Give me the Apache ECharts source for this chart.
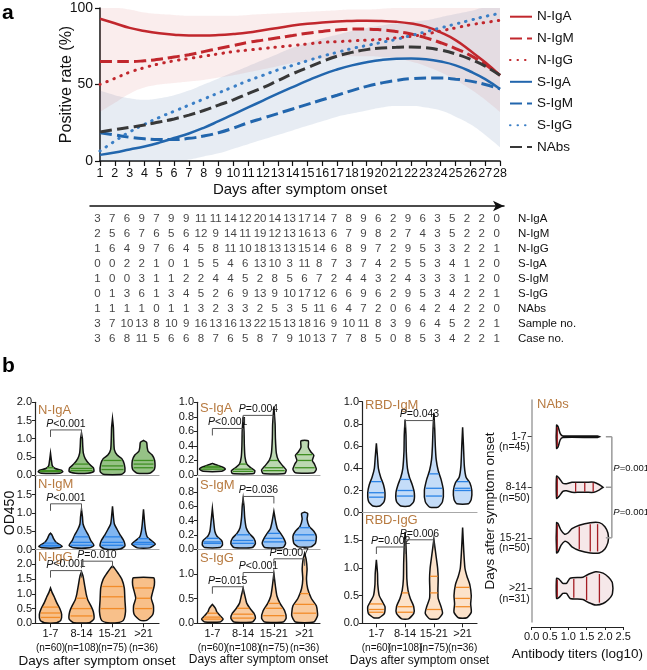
<!DOCTYPE html>
<html><head><meta charset="utf-8">
<script src="https://cdn.jsdelivr.net/npm/echarts@6/dist/echarts.min.js"></script>
<style>html,body{margin:0;padding:0;background:#fff}#c{width:647px;height:670px}</style>
</head><body><div id="c"></div>
<script>
// ---------------- DATA : panel a ----------------
const days = ['1','2','3','4','5','6','7','8','9','10','11','12','13','14','15','16','17','18','19','20','21','22','23','24','25','26','27','28'];
const nIgA = [93,90,87,85,83.5,82.5,82,82,82.3,83,84,85.5,87,88.5,89.7,90.6,91.2,91.5,91.7,91.5,91,89.8,87.8,84,79,72,64.5,56];
const nIgM = [65,65,65,65.5,66.5,68,69.5,71.5,73.5,75.5,77.5,79,80.5,82,83.5,84.7,85.6,86.2,86.2,85.7,84.6,83,80.5,77.3,73.5,69,63,56];
const nIgG = [50,54,58,61,63.5,65.5,67,68.5,70,71.5,72.5,73.5,74.5,75.5,76.5,77.5,78,78.5,79,79.5,80.5,81.5,83,85,87,89,90.5,92];
const sIgA = [4,5.5,7.5,9.5,12,15,18,21.7,26,30.5,35,39.5,44,48.3,52.5,56.5,59.8,62.5,64.5,66,66.8,67,66.5,65,62.5,58.5,53.5,47];
const sIgM = [18.5,17,15.5,14.5,14,14,14.8,16.3,18.5,21.5,25,28,31,34,37,40,43,46,48.8,51,52.7,53.8,54.2,54.2,53.5,52.2,50,47];
const sIgG = [6.5,13,19,24,28.5,32.5,36.5,40.5,44.5,48.5,52.5,56,59.5,62.5,65.5,68.5,71,73.5,75.5,77.5,79.5,82,84.5,87,89.5,92,94.5,96.5];
const nAbs = [19,20.5,22,23.5,25.5,27.5,30,33,36.5,40,44,48,52.5,57,61,65,68.5,71,72.8,73.8,74.3,74.5,74,72.5,70,66.5,62,56];
// confidence regions (group envelopes)
const redLo  = [32,38,44,48,50,51,52,53,54.5,56,58,60,62,64,65.5,67,68,68.5,68.5,68,67,65,62,58,53,47,40,32];
const redHi  = [100,100,99,97,96,95.5,95,95,95,95,95.5,96,96.5,97,97.5,98,98.5,99,99,99.5,100,100,100,100,100,100,100,100];
const blueLo = [0,0,0,0,0,0,1,3,5,8,11,14,17,20,23,26,29,31,33,35,36,36,35,33,29,24,17,9];
const blueHi = [46,43,41,40,41,43,46,50,54,58,62,66,70,74,77,80,82.5,85,87,88.5,90,91,92,94,96,98,100,100];

// ---------------- DATA : table ----------------
const rowNames = ['N-IgA','N-IgM','N-IgG','S-IgA','S-IgM','S-IgG','NAbs','Sample no.','Case no.'];
const tNIgA   = [3,7,6,9,7,9,9,11,11,14,12,20,14,13,17,14,7,8,9,6,2,9,6,3,5,2,2,0];
const tNIgM   = [2,5,6,7,6,5,6,12,9,14,11,19,12,13,16,13,6,7,9,8,2,7,4,3,5,2,2,0];
const tNIgG   = [1,6,4,9,7,6,4,5,8,11,10,18,13,13,15,14,6,8,9,7,2,9,5,3,3,2,2,1];
const tSIgA   = [0,0,2,2,1,0,1,5,5,4,6,13,10,3,11,8,7,3,7,4,2,5,5,3,4,1,2,0];
const tSIgM   = [1,0,0,3,1,1,2,2,4,4,5,2,8,5,6,7,2,4,4,3,2,4,3,3,3,1,2,0];
const tSIgG   = [0,1,3,6,1,3,4,5,2,6,9,13,9,10,17,12,6,6,9,6,2,9,5,3,4,2,2,1];
const tNAbs   = [1,1,1,1,0,1,1,3,2,3,3,2,5,3,5,11,6,4,7,2,0,6,4,2,4,2,2,0];
const tSample = [3,7,10,13,8,10,9,16,13,16,13,22,15,13,18,16,9,10,11,8,3,9,6,4,5,2,2,1];
const tCase   = [3,6,8,11,5,6,6,8,7,6,5,8,7,9,10,13,7,7,8,5,0,8,5,3,4,2,2,1];

// ---------------- DATA : panel b ----------------
const periods = ['1-7','8-14','15-21','>21'];
const nLabels = ['(n=60)','(n=108)','(n=75)','(n=36)'];
const nabsN = ['(n=45)','(n=50)','(n=50)','(n=31)'];
// violin outlines: [value, relative half-width]
const vNIgA = [
 [[0.05,0.3],[0.09,0.4],[0.13,0.35],[0.18,0.15],[0.25,0.06],[0.4,0.03],[0.6,0]],
 [[0.05,0.2],[0.1,0.4],[0.2,0.38],[0.3,0.25],[0.45,0.12],[0.6,0.06],[0.8,0.04],[1.0,0.03],[1.15,0]],
 [[0.02,0.3],[0.1,0.4],[0.3,0.38],[0.45,0.3],[0.55,0.15],[0.7,0.06],[1.0,0.04],[1.3,0.03],[1.55,0]],
 [[0.05,0.2],[0.15,0.35],[0.4,0.36],[0.55,0.28],[0.65,0.15],[0.75,0.12],[0.9,0.1],[0.95,0]]];
const vNIgM = [
 [[0.05,0.25],[0.09,0.38],[0.14,0.3],[0.2,0.18],[0.3,0.1],[0.4,0.05],[0.45,0]],
 [[0.05,0.25],[0.12,0.4],[0.25,0.3],[0.4,0.22],[0.55,0.12],[0.7,0.05],[0.9,0.03],[1.1,0]],
 [[0.02,0.25],[0.1,0.4],[0.25,0.36],[0.4,0.25],[0.55,0.15],[0.7,0.06],[0.9,0.03],[1.18,0]],
 [[0.05,0.2],[0.15,0.38],[0.25,0.25],[0.35,0.12],[0.5,0.07],[0.7,0.04],[0.9,0.02],[1.1,0]]];
const vNIgG = [
 [[0.02,0.2],[0.1,0.33],[0.3,0.36],[0.5,0.3],[0.7,0.2],[0.9,0.12],[1.05,0.05],[1.2,0]],
 [[0.02,0.25],[0.15,0.4],[0.4,0.38],[0.6,0.3],[0.8,0.2],[1.0,0.15],[1.3,0.1],[1.6,0.05],[1.75,0]],
 [[0.02,0.15],[0.1,0.35],[0.4,0.42],[0.8,0.4],[1.2,0.38],[1.5,0.3],[1.7,0.18],[1.85,0.08],[1.95,0]],
 [[0.1,0.1],[0.3,0.3],[0.6,0.32],[0.85,0.25],[1.0,0.28],[1.3,0.35],[1.5,0.35],[1.55,0.32]]];
const vSIgA = [
 [[0.05,0.3],[0.08,0.42],[0.11,0.32],[0.14,0.12],[0.16,0]],
 [[0.02,0.35],[0.06,0.38],[0.1,0.25],[0.15,0.12],[0.25,0.06],[0.4,0.04],[0.6,0.03],[0.8,0]],
 [[0.02,0.35],[0.07,0.4],[0.12,0.3],[0.2,0.15],[0.3,0.08],[0.5,0.05],[0.7,0.04],[0.94,0]],
 [[0.03,0.3],[0.08,0.38],[0.15,0.32],[0.2,0.25],[0.27,0.3],[0.32,0.2],[0.38,0.12],[0.47,0.12]]];
const vSIgM = [
 [[0.02,0.25],[0.06,0.33],[0.12,0.3],[0.18,0.15],[0.25,0.08],[0.4,0.04],[0.57,0]],
 [[0.02,0.3],[0.08,0.4],[0.15,0.35],[0.22,0.2],[0.3,0.1],[0.45,0.05],[0.6,0.03],[0.71,0]],
 [[0.02,0.3],[0.08,0.38],[0.15,0.32],[0.22,0.22],[0.28,0.12],[0.38,0.06],[0.53,0]],
 [[0.03,0.2],[0.08,0.35],[0.18,0.38],[0.25,0.3],[0.32,0.15],[0.42,0.08],[0.5,0.1],[0.52,0]]];
const vSIgG = [
 [[0.02,0.25],[0.08,0.35],[0.15,0.25],[0.22,0.15],[0.3,0.1],[0.38,0]],
 [[0.02,0.3],[0.1,0.4],[0.2,0.35],[0.3,0.22],[0.4,0.12],[0.55,0.06],[0.71,0]],
 [[0.02,0.3],[0.1,0.4],[0.25,0.35],[0.4,0.2],[0.55,0.1],[0.75,0.05],[1.01,0]],
 [[0.02,0.3],[0.15,0.42],[0.35,0.38],[0.5,0.22],[0.7,0.1],[0.9,0.06],[1.1,0.08],[1.3,0.05],[1.42,0]]];
const vRbdM = [
 [[0.06,0.12],[0.1,0.27],[0.18,0.3],[0.25,0.25],[0.32,0.15],[0.4,0.07],[0.5,0.04],[0.625,0]],
 [[0.06,0.15],[0.1,0.3],[0.18,0.32],[0.25,0.25],[0.32,0.15],[0.4,0.08],[0.55,0.04],[0.7,0.03],[0.84,0]],
 [[0.05,0.15],[0.1,0.3],[0.2,0.33],[0.3,0.25],[0.38,0.15],[0.48,0.08],[0.6,0.05],[0.75,0.03],[0.9,0]],
 [[0.08,0.2],[0.12,0.3],[0.2,0.32],[0.27,0.25],[0.32,0.12],[0.42,0.06],[0.6,0.03],[0.77,0]]];
const vRbdG = [
 [[0.1,0.1],[0.18,0.28],[0.3,0.3],[0.4,0.2],[0.5,0.1],[0.7,0.05],[0.9,0.04],[1.15,0]],
 [[0.08,0.12],[0.18,0.3],[0.3,0.3],[0.45,0.18],[0.6,0.1],[0.8,0.06],[1.1,0.05],[1.4,0.03],[1.65,0]],
 [[0.08,0.15],[0.18,0.3],[0.3,0.25],[0.45,0.15],[0.6,0.14],[0.8,0.15],[1.0,0.13],[1.2,0.08],[1.52,0]],
 [[0.1,0.15],[0.2,0.3],[0.35,0.28],[0.5,0.3],[0.7,0.25],[0.85,0.15],[1.0,0.08],[1.3,0.04],[1.73,0]]];
const vNAbs = [
 [[0.68,0.23],[0.72,0.2],[0.78,0.06],[0.85,0.015],[1.8,0.015],[1.85,0]],
 [[0.68,0.22],[0.75,0.18],[0.85,0.08],[0.95,0.07],[1.1,0.1],[1.3,0.1],[1.5,0.1],[1.7,0.1],[1.85,0.05],[1.95,0]],
 [[0.68,0.3],[0.72,0.28],[0.8,0.15],[0.9,0.07],[1.0,0.1],[1.1,0.18],[1.3,0.25],[1.6,0.3],[1.85,0.3],[2.0,0.22],[2.08,0.1],[2.1,0]],
 [[0.68,0.2],[0.75,0.18],[0.85,0.1],[0.95,0.1],[1.05,0.2],[1.4,0.22],[1.55,0.28],[1.75,0.33],[1.95,0.3],[2.1,0.22],[2.2,0.12],[2.22,0]]];
// quartile / median lines
const qNIgA = [[0.1,0.12,0.2],[0.12,0.18,0.3],[0.15,0.25,0.4],[0.2,0.3,0.4]];
const qNIgM = [[0.1,0.12,0.18],[0.12,0.2,0.35],[0.12,0.2,0.35],[0.15,0.2,0.3]];
const qNIgG = [[0.2,0.35,0.55],[0.25,0.5,0.85],[0.5,0.9,1.25],[0.5,0.85,1.2]];
const qSIgA = [[0.08,0.1,0.12],[0.05,0.08,0.15],[0.06,0.1,0.2],[0.1,0.2,0.28]];
const qSIgM = [[0.08,0.1,0.15],[0.08,0.12,0.2],[0.1,0.15,0.22],[0.12,0.2,0.3]];
const qSIgG = [[0.08,0.12,0.2],[0.1,0.18,0.3],[0.15,0.3,0.4],[0.2,0.38,0.6]];
const qRbdM = [[0.14,0.18,0.28],[0.15,0.2,0.3],[0.15,0.22,0.35],[0.2,0.22,0.28]];
const qRbdG = [[0.2,0.25,0.35],[0.2,0.3,0.55],[0.25,0.55,0.85],[0.3,0.45,0.65]];
const qNAbs = [[0.7],[0.7,1.2,1.45,1.68],[0.7,1.3,1.6,1.8],[0.7,1.15,1.5,1.85]];
// significance brackets: [fromGroup, toGroup, height]
const bNIgA = [[0,1,1.24]];            const pNIgA = ['P<0.001'];
const bNIgM = [[0,1,1.25]];            const pNIgM = ['P<0.001'];
const bNIgG = [[0,1,1.79],[1,2,2.11]]; const pNIgG = ['P<0.001','P=0.010'];
const bSIgA = [[0,1,0.64],[1,2,0.82]]; const pSIgA = ['P<0.001','P=0.004'];
const bSIgM = [[1,2,0.74]];            const pSIgM = ['P=0.036'];
const bSIgG = [[0,1,0.74],[1,2,1.03],[2,3,1.31]]; const pSIgG = ['P=0.015','P<0.001','P=0.007'];
const bRbdM = [[1,2,0.83]];            const pRbdM = ['P=0.043'];
const bRbdG = [[0,1,1.38],[1,2,1.51]]; const pRbdG = ['P=0.002','P=0.006'];
const bNAbs = [[2.19,0,2]];            const pNAbs = [[0.62,'P=0.001'],[1.5,'P=0.001']];

// ---------------- STYLE ----------------
const FONT = '"Liberation Sans", Arial, Helvetica, sans-serif';
const RED = '#c1272d', BLUE = '#2266ad', BLUE2 = '#3b7fc6', DARK = '#383838';
const GREEN = '#3f8f22', VBLUE = '#2b83e6', ORANGE = '#f28c2a', NRED = '#a41d24';
const BROWN = '#b77a40';

function rgba(hex, a) {
  const n = parseInt(hex.slice(1), 16);
  return 'rgba(' + (n >> 16) + ',' + ((n >> 8) & 255) + ',' + (n & 255) + ',' + a + ')';
}
function interp(prof, q) {
  if (q <= prof[0][0]) return prof[0][1];
  for (let k = 1; k < prof.length; k++) {
    if (q <= prof[k][0]) {
      const [v0, w0] = prof[k - 1], [v1, w1] = prof[k];
      return w0 + (w1 - w0) * (q - v0) / (v1 - v0);
    }
  }
  return prof[prof.length - 1][1];
}
function pLabel(s) { return s.replace(/^P/, '{i|P}'); }
function pRich(fs) { return { i: { fontStyle: 'italic', fontSize: fs, fontFamily: FONT, fill: '#111' } }; }

function makeViolin(profiles, quarts, color, alpha, horizontal) {
  return function (params, api) {
    const i = params.dataIndex;
    const cat = api.value(horizontal ? 1 : 0);
    const prof = profiles[i];
    const band = horizontal ? api.size([0, 1])[1] : api.size([1, 0])[0];
    const P = (v, off) => {
      const p = horizontal ? api.coord([v, cat]) : api.coord([cat, v]);
      return horizontal ? [p[0], p[1] + off] : [p[0] + off, p[1]];
    };
    const sideA = prof.map(d => P(d[0], -d[1] * band));
    const sideB = prof.map(d => P(d[0], d[1] * band)).reverse();
    const children = [];
    children.push({
      type: 'polygon', shape: { points: sideA.concat(sideB), smooth: 0.2 },
      style: { fill: rgba(color, alpha), stroke: '#111', lineWidth: 1.5 }, z2: 1
    });
    (quarts[i] || []).forEach(q => {
      const hw = interp(prof, q) * band * 0.9;
      const a = P(q, -hw), b = P(q, hw);
      children.push({ type: 'line', shape: { x1: a[0], y1: a[1], x2: b[0], y2: b[1] },
        style: { stroke: color, lineWidth: 1.3 }, z2: 2 });
    });
    return { type: 'group', children };
  };
}
function makeBracket(labels) {
  return function (params, api) {
    const y = api.value(2);
    const a = api.coord([api.value(0), y]), b = api.coord([api.value(1), y]);
    const t = 7;
    return { type: 'group', children: [
      { type: 'polyline', shape: { points: [[a[0], a[1] + t], [a[0], a[1]], [b[0], b[1]], [b[0], b[1] + t]] },
        style: { stroke: '#555', lineWidth: 1, fill: null } },
      { type: 'text', x: (a[0] + b[0]) / 2, y: a[1] - 0.5,
        style: { text: pLabel(labels[params.dataIndex]), align: 'center', verticalAlign: 'bottom',
          fontSize: 10.5, fontFamily: FONT, fill: '#111', rich: pRich(10.5) } }
    ] };
  };
}

const grids = [], xAxes = [], yAxes = [], series = [], graphic = [];

// ---------------- panel a ----------------
grids.push({ left: 100, top: 8, width: 400, height: 153, containLabel: false, outerBoundsMode: 'none' });
xAxes.push({ type: 'category', gridIndex: 0, data: days, boundaryGap: false,
  axisLine: { lineStyle: { color: '#111', width: 1.5 } },
  axisTick: { interval: 0, length: 5, lineStyle: { color: '#111', width: 1.2 } },
  axisLabel: { interval: 0, fontSize: 12.5, margin: 6, color: '#111' },
  name: 'Days after symptom onset', nameLocation: 'middle', nameGap: 21, nameMoveOverlap: false,
  nameTextStyle: { fontSize: 15, color: '#111' } });
yAxes.push({ type: 'value', gridIndex: 0, min: 0, max: 100, interval: 50,
  axisLine: { show: true, lineStyle: { color: '#111', width: 1.5 } },
  axisTick: { show: true, length: 5, lineStyle: { color: '#111', width: 1.2 } },
  splitLine: { show: false },
  axisLabel: { fontSize: 14, margin: 7, color: '#111' },
  name: 'Positive rate (%)', nameLocation: 'middle', nameGap: 25, nameRotate: 90, nameMoveOverlap: false,
  nameTextStyle: { fontSize: 16, color: '#111' } });

function band(name, lo, hi, color) {
  series.push({ type: 'line', name: name + 'lo', xAxisIndex: 0, yAxisIndex: 0, data: lo, stack: name,
    smooth: true, symbol: 'none', lineStyle: { opacity: 0 }, silent: true, z: 1 });
  series.push({ type: 'line', name: name + 'hi', xAxisIndex: 0, yAxisIndex: 0, data: hi.map((v, i) => v - lo[i]),
    stack: name, smooth: true, symbol: 'none', lineStyle: { opacity: 0 }, areaStyle: { color: color, opacity: 1 },
    silent: true, z: 1 });
}
band('blue', blueLo, blueHi, 'rgba(70,110,160,0.13)');
band('red', redLo, redHi, 'rgba(205,80,80,0.10)');

function curve(name, data, color, width, type) {
  const dotted = Array.isArray(type) && type[0] < 1;
  series.push({ type: 'line', name, xAxisIndex: 0, yAxisIndex: 0, data, smooth: true, symbol: 'none', showSymbol: false,
    itemStyle: { color }, lineStyle: { color, width, type, cap: dotted ? 'round' : 'butt' }, z: 3 });
}
curve('N-IgA', nIgA, RED, 2.5, 'solid');
curve('N-IgM', nIgM, RED, 3, [12, 5]);
curve('N-IgG', nIgG, RED, 3, [0.5, 7]);
curve('S-IgA', sIgA, BLUE, 2.5, 'solid');
curve('S-IgM', sIgM, BLUE, 3, [12, 5]);
curve('S-IgG', sIgG, BLUE2, 3, [0.5, 7]);
curve('NAbs', nAbs, DARK, 3, [12, 5]);

// ---------------- table ----------------
grids.push({ left: 90, top: 211, width: 414, height: 135, containLabel: false, outerBoundsMode: 'none' });
xAxes.push({ type: 'category', gridIndex: 1, data: days, position: 'top', offset: 5, boundaryGap: true,
  axisLine: { show: true, symbol: ['none', 'arrow'], symbolSize: [8, 11], lineStyle: { color: '#111', width: 1.5 } },
  axisTick: { show: false }, axisLabel: { show: false } });
yAxes.push({ type: 'category', gridIndex: 1, data: rowNames, inverse: true, position: 'right',
  axisLine: { show: false }, axisTick: { show: false },
  axisLabel: { interval: 0, fontSize: 11.5, margin: 14, color: '#111' } });
const tableRows = [tNIgA, tNIgM, tNIgG, tSIgA, tSIgM, tSIgG, tNAbs, tSample, tCase];
const tableData = [];
tableRows.forEach((row, r) => row.forEach((v, d) => tableData.push([d, r, v])));
series.push({ type: 'scatter', xAxisIndex: 1, yAxisIndex: 1, data: tableData, symbolSize: 0.1,
  itemStyle: { color: 'transparent' }, silent: true,
  label: { show: true, position: 'inside', formatter: p => String(p.value[2]), fontSize: 11.5, color: '#111', fontFamily: FONT } });

// ---------------- panel b ----------------
function vPanel(o) {
  const gi = grids.length, xi = xAxes.length, yi = yAxes.length;
  grids.push({ left: o.left, top: o.top, width: o.width, height: o.height, containLabel: false, outerBoundsMode: 'none' });
  xAxes.push({ type: 'category', gridIndex: gi, data: periods, boundaryGap: true,
    axisLine: { show: true, onZero: false, lineStyle: { color: o.bottom ? '#222' : '#a8a8a8', width: 1.2 } },
    axisTick: { show: !!o.bottom, alignWithLabel: true, length: 4, lineStyle: { color: '#222' } },
    axisLabel: o.bottom ? { show: true, interval: 0, margin: 4, fontSize: 11, lineHeight: 13, color: '#111',
      formatter: (v, i) => v + '\n{n|' + nLabels[i] + '}', rich: { n: { fontSize: 10, lineHeight: 16, color: '#111' } } } : { show: false },
    name: o.bottom ? 'Days after symptom onset' : '', nameLocation: 'middle', nameGap: 31, nameMoveOverlap: false,
    nameTextStyle: { fontSize: o.nameSize || 13, color: '#111' } });
  yAxes.push({ type: 'value', gridIndex: gi, min: 0, max: o.max, interval: o.interval,
    axisLine: { show: true, lineStyle: { color: '#222', width: 1.2 } },
    axisTick: { show: true, length: 3, lineStyle: { color: '#222' } },
    axisLabel: { fontSize: 11, margin: 3, color: '#111', showMaxLabel: o.showMax, formatter: v => v.toFixed(1) },
    splitLine: { show: false },
    name: o.yName || '', nameLocation: 'middle', nameRotate: 90, nameGap: 18, nameMoveOverlap: false,
    nameTextStyle: { fontSize: 14, color: '#111' } });
  series.push({ type: 'custom', xAxisIndex: xi, yAxisIndex: yi, silent: true, z: 3,
    renderItem: makeViolin(o.prof, o.q, o.color, o.alpha, false),
    data: [[0, 0], [1, 0], [2, 0], [3, 0]], encode: { x: 0, y: 1 } });
  series.push({ type: 'custom', xAxisIndex: xi, yAxisIndex: yi, silent: true, z: 4,
    renderItem: makeBracket(o.p), data: o.b, encode: { x: [0, 1], y: 2 } });
  graphic.push({ type: 'text', x: o.left + 3, y: o.titleY,
    style: { text: o.title, fill: BROWN, fontSize: 13, fontFamily: FONT, verticalAlign: 'middle' } });
}
vPanel({ left: 35, top: 402.3, width: 124, height: 72.7, max: 2, interval: 0.5, showMax: true,
  prof: vNIgA, q: qNIgA, color: GREEN, alpha: 0.55, b: bNIgA, p: pNIgA, title: 'N-IgA', titleY: 410 });
vPanel({ left: 35, top: 476.3, width: 124, height: 73.4, max: 2, interval: 0.5, showMax: false, yName: 'OD450',
  prof: vNIgM, q: qNIgM, color: VBLUE, alpha: 0.6, b: bNIgM, p: pNIgM, title: 'N-IgM', titleY: 484 });
vPanel({ left: 35, top: 549.7, width: 124, height: 73.6, max: 2.5, interval: 0.5, showMax: false, bottom: true, nameSize: 13.5,
  prof: vNIgG, q: qNIgG, color: ORANGE, alpha: 0.55, b: bNIgG, p: pNIgG, title: 'N-IgG', titleY: 557 });
vPanel({ left: 197, top: 402.3, width: 123, height: 72.7, max: 1, interval: 0.2, showMax: true,
  prof: vSIgA, q: qSIgA, color: GREEN, alpha: 0.35, b: bSIgA, p: pSIgA, title: 'S-IgA', titleY: 408 });
vPanel({ left: 197, top: 478, width: 123, height: 71, max: 1, interval: 0.2, showMax: false,
  prof: vSIgM, q: qSIgM, color: VBLUE, alpha: 0.45, b: bSIgM, p: pSIgM, title: 'S-IgM', titleY: 485 });
vPanel({ left: 197, top: 549.5, width: 123, height: 73.5, max: 1.5, interval: 0.5, showMax: false, bottom: true, nameSize: 12,
  prof: vSIgG, q: qSIgG, color: ORANGE, alpha: 0.45, b: bSIgG, p: pSIgG, title: 'S-IgG', titleY: 558 });
vPanel({ left: 362, top: 401.7, width: 115, height: 111, max: 1, interval: 0.2, showMax: true,
  prof: vRbdM, q: qRbdM, color: VBLUE, alpha: 0.28, b: bRbdM, p: pRbdM, title: 'RBD-IgM', titleY: 405 });
vPanel({ left: 362, top: 512.7, width: 115, height: 110.6, max: 2, interval: 0.5, showMax: false, bottom: true, nameSize: 12,
  prof: vRbdG, q: qRbdG, color: ORANGE, alpha: 0.25, b: bRbdG, p: pRbdG, title: 'RBD-IgG', titleY: 520 });

// NAbs (horizontal)
{
  const gi = grids.length, xi = xAxes.length, yi = yAxes.length;
  const yMin = -0.727, yMax = 3.666;
  grids.push({ left: 531.7, top: 400, width: 91.5, height: 222, containLabel: false, outerBoundsMode: 'none' });
  xAxes.push({ type: 'value', gridIndex: gi, min: 0, max: 2.5, interval: 0.5, offset: 5,
    axisLine: { show: true, onZero: false, lineStyle: { color: '#222', width: 1.2 } },
    axisTick: { show: true, length: 3, lineStyle: { color: '#222' } },
    axisLabel: { fontSize: 11, margin: 4, color: '#111', formatter: v => v.toFixed(1) },
    splitLine: { show: false },
    name: 'Antibody titers (log10)', nameLocation: 'middle', nameGap: 20, nameMoveOverlap: false,
    nameTextStyle: { fontSize: 13.5, color: '#111' } });
  yAxes.push({ type: 'value', gridIndex: gi, inverse: true, min: yMin, max: yMax, position: 'left',
    axisLine: { show: true, onZero: false, lineStyle: { color: '#a0a0a0', width: 1.5 } },
    axisTick: { show: true, customValues: [0, 1, 2, 3], length: 4, lineStyle: { color: '#444' } },
    axisLabel: { customValues: [0, 1, 2, 3], formatter: v => periods[Math.round(v)], fontSize: 10.5, margin: 5, color: '#111' },
    splitLine: { show: false },
    name: 'Days after symptom onset', nameLocation: 'middle', nameRotate: 90, nameGap: 34, nameMoveOverlap: false,
    nameTextStyle: { fontSize: 13.5, color: '#111' } });
  yAxes.push({ type: 'value', gridIndex: gi, inverse: true, min: yMin, max: yMax, position: 'left', offset: 0,
    axisLine: { show: false }, axisTick: { show: false }, splitLine: { show: false },
    axisLabel: { customValues: [0, 1, 2, 3], formatter: v => nabsN[Math.round(v)], fontSize: 10.5, margin: 2,
      color: '#111', verticalAlign: 'top', lineHeight: 21 } });
  series.push({ type: 'custom', xAxisIndex: xi, yAxisIndex: yi, silent: true, z: 3,
    renderItem: makeViolin(vNAbs, qNAbs, NRED, 0.1, true),
    data: [[0, 0], [0, 1], [0, 2], [0, 3]], encode: { x: 0, y: 1 } });
  series.push({ type: 'custom', xAxisIndex: xi, yAxisIndex: yi, silent: true, z: 4,
    data: bNAbs, encode: { x: 0, y: [1, 2] },
    renderItem: function (params, api) {
      const x = api.value(0), y0 = api.value(1), y1 = api.value(2);
      const t = 6, kids = [];
      const a = api.coord([x, y0]), b = api.coord([x, y1]);
      kids.push({ type: 'line', shape: { x1: a[0], y1: a[1], x2: b[0], y2: b[1] }, style: { stroke: '#999', lineWidth: 1.5 } });
      for (let c = y0; c <= y1; c++) {
        const p = api.coord([x, c]);
        kids.push({ type: 'line', shape: { x1: p[0] - t, y1: p[1], x2: p[0], y2: p[1] }, style: { stroke: '#999', lineWidth: 1.5 } });
      }
      pNAbs.forEach(([yy, s]) => {
        const p = api.coord([x, yy]);
        kids.push({ type: 'text', x: p[0] + 1.5, y: p[1],
          style: { text: pLabel(s), align: 'left', verticalAlign: 'middle', fontSize: 9.5, fontFamily: FONT, fill: '#111', rich: pRich(9.5) } });
      });
      return { type: 'group', children: kids };
    } });
  graphic.push({ type: 'text', x: 537, y: 404,
    style: { text: 'NAbs', fill: BROWN, fontSize: 13, fontFamily: FONT, verticalAlign: 'middle' } });
}

graphic.push({ type: 'text', x: 2, y: 3, style: { text: 'a', fill: '#000', fontSize: 21, fontWeight: 'bold', fontFamily: FONT } });
graphic.push({ type: 'text', x: 2, y: 356, style: { text: 'b', fill: '#000', fontSize: 21, fontWeight: 'bold', fontFamily: FONT } });

const chart = echarts.init(document.getElementById('c'), null, { renderer: 'canvas' });
chart.setOption({
  animation: false,
  backgroundColor: '#fff',
  textStyle: { fontFamily: FONT, color: '#111' },
  legend: { data: ['N-IgA', 'N-IgM', 'N-IgG', 'S-IgA', 'S-IgM', 'S-IgG', 'NAbs'], orient: 'vertical',
    left: 504, top: 4.7, itemWidth: 22, itemHeight: 14, itemGap: 7.7,
    itemStyle: { opacity: 0 },
    textStyle: { fontSize: 13.5, color: '#111', fontFamily: FONT } },
  grid: grids, xAxis: xAxes, yAxis: yAxes, series, graphic
});
</script></body></html>
